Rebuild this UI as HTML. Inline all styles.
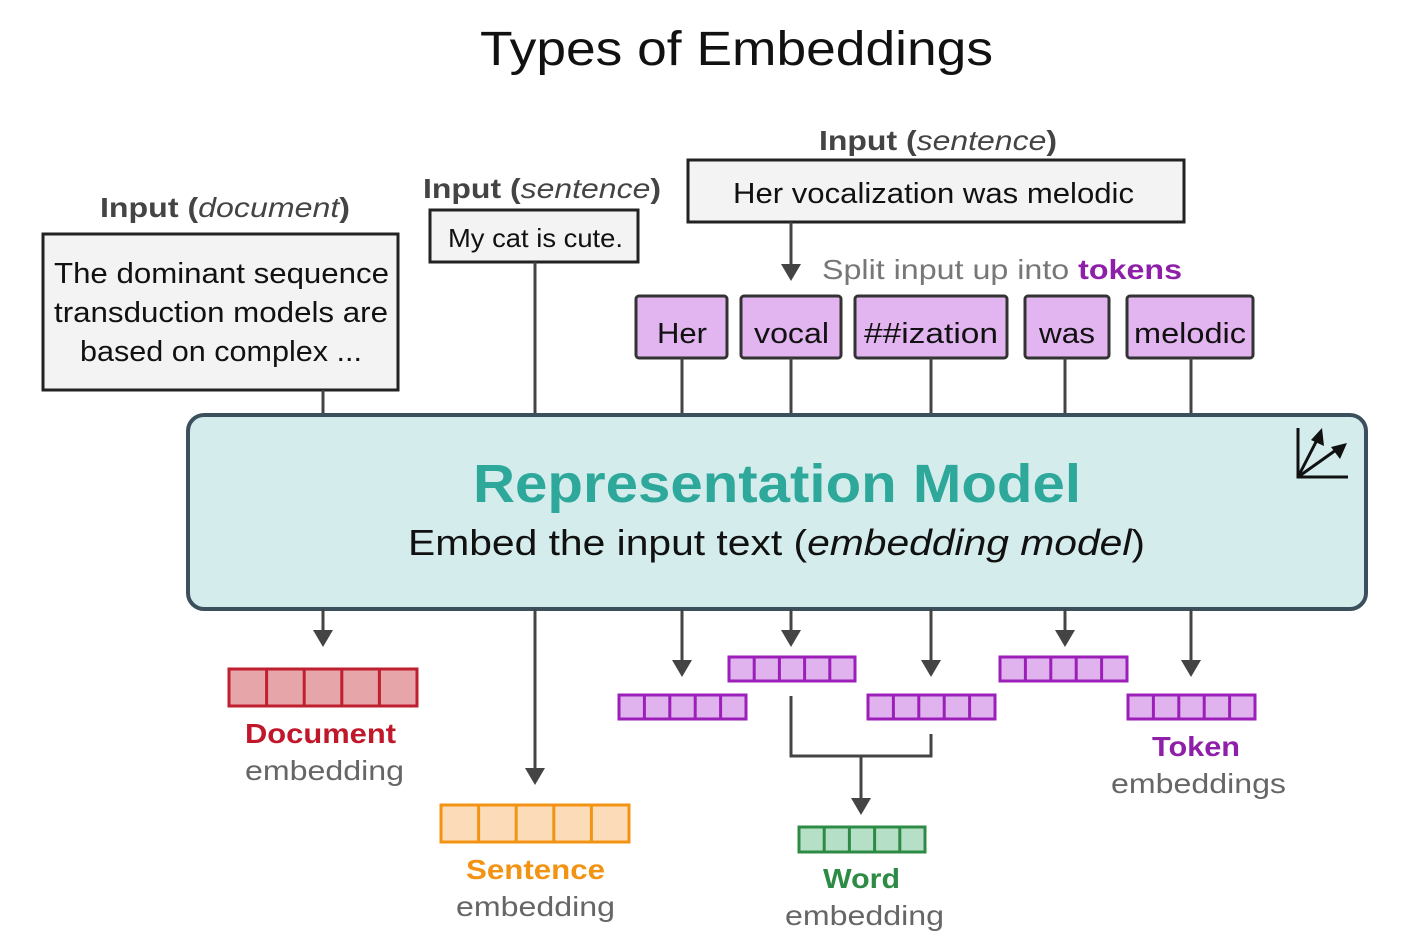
<!DOCTYPE html>
<html><head><meta charset="utf-8"><style>
html,body{margin:0;padding:0;background:#fff;}
svg{display:block;font-family:"Liberation Sans",sans-serif;}
</style></head><body>
<svg width="1403" height="947" viewBox="0 0 1403 947" xmlns="http://www.w3.org/2000/svg">
<text x="480" y="65" font-size="48" fill="#111" textLength="513" lengthAdjust="spacingAndGlyphs">Types of Embeddings</text>

<!-- document input -->
<text x="100" y="217" font-size="28" fill="#444" textLength="250" lengthAdjust="spacingAndGlyphs"><tspan font-weight="bold">Input (</tspan><tspan font-style="italic">document</tspan><tspan font-weight="bold">)</tspan></text>
<rect x="43" y="234" width="355" height="156" fill="#f3f3f3" stroke="#222" stroke-width="3"/>
<g font-size="29" fill="#111">
<text x="54" y="283" textLength="335" lengthAdjust="spacingAndGlyphs">The dominant sequence</text>
<text x="54" y="322" textLength="334" lengthAdjust="spacingAndGlyphs">transduction models are</text>
<text x="80" y="361" textLength="282" lengthAdjust="spacingAndGlyphs">based on complex ...</text>
</g>

<!-- sentence input -->
<text x="423" y="198" font-size="28" fill="#444" textLength="238" lengthAdjust="spacingAndGlyphs"><tspan font-weight="bold">Input (</tspan><tspan font-style="italic">sentence</tspan><tspan font-weight="bold">)</tspan></text>
<rect x="430" y="210" width="208" height="52" fill="#f3f3f3" stroke="#222" stroke-width="3"/>
<text x="448" y="247" font-size="26" fill="#111" textLength="175" lengthAdjust="spacingAndGlyphs">My cat is cute.</text>

<!-- token input -->
<text x="819" y="150" font-size="28" fill="#444" textLength="238" lengthAdjust="spacingAndGlyphs"><tspan font-weight="bold">Input (</tspan><tspan font-style="italic">sentence</tspan><tspan font-weight="bold">)</tspan></text>
<rect x="688" y="160" width="496" height="62" fill="#f3f3f3" stroke="#222" stroke-width="3"/>
<text x="733" y="203" font-size="29" fill="#111" textLength="401" lengthAdjust="spacingAndGlyphs">Her vocalization was melodic</text>
<line x1="791" y1="222" x2="791" y2="266" stroke="#444" stroke-width="3"/>
<polygon points="781,264 801,264 791,281" fill="#444"/>
<text x="822" y="279" font-size="28" fill="#777" textLength="360" lengthAdjust="spacingAndGlyphs">Split input up into <tspan font-weight="bold" fill="#8e1fa8">tokens</tspan></text>

<!-- token boxes -->
<g fill="#e2b4f0" stroke="#333" stroke-width="3">
<rect x="636" y="296" width="91" height="62" rx="3"/>
<rect x="741" y="296" width="100" height="62" rx="3"/>
<rect x="855" y="296" width="152" height="62" rx="3"/>
<rect x="1025" y="296" width="84" height="62" rx="3"/>
<rect x="1127" y="296" width="126" height="62" rx="3"/>
</g>
<g font-size="29" fill="#111">
<text x="657" y="343" textLength="50" lengthAdjust="spacingAndGlyphs">Her</text>
<text x="754" y="343" textLength="75" lengthAdjust="spacingAndGlyphs">vocal</text>
<text x="864" y="343" textLength="134" lengthAdjust="spacingAndGlyphs">##ization</text>
<text x="1039" y="343" textLength="56" lengthAdjust="spacingAndGlyphs">was</text>
<text x="1134" y="343" textLength="112" lengthAdjust="spacingAndGlyphs">melodic</text>
</g>

<!-- connectors above model -->
<g stroke="#444" stroke-width="3">
<line x1="323" y1="390" x2="323" y2="416"/>
<line x1="535" y1="262" x2="535" y2="416"/>
<line x1="682" y1="358" x2="682" y2="416"/>
<line x1="791" y1="358" x2="791" y2="416"/>
<line x1="931" y1="358" x2="931" y2="416"/>
<line x1="1065" y1="358" x2="1065" y2="416"/>
<line x1="1191" y1="358" x2="1191" y2="416"/>
</g>

<!-- model -->
<rect x="188" y="415" width="1178" height="194" rx="16" fill="#d5ecec" stroke="#3c4f5c" stroke-width="4"/>
<text x="473" y="502" font-size="54" font-weight="bold" fill="#2ea89a" textLength="608" lengthAdjust="spacingAndGlyphs">Representation Model</text>
<text x="408" y="555" font-size="36" fill="#111" textLength="737" lengthAdjust="spacingAndGlyphs">Embed the input text (<tspan font-style="italic">embedding model</tspan>)</text>
<g stroke="#111" stroke-width="3" fill="none">
<path d="M1298,428 L1298,477 L1348,477"/>
<line x1="1298" y1="477" x2="1318" y2="438"/>
<line x1="1298" y1="477" x2="1336" y2="450"/>
</g>
<polygon points="1322,428 1324,446 1311,440" fill="#111"/>
<polygon points="1347,443 1340,459 1331,447" fill="#111"/>

<!-- output arrows -->
<g stroke="#444" stroke-width="3">
<line x1="323" y1="609" x2="323" y2="632"/>
<line x1="535" y1="609" x2="535" y2="770"/>
<line x1="682" y1="609" x2="682" y2="662"/>
<line x1="791" y1="609" x2="791" y2="632"/>
<line x1="931" y1="609" x2="931" y2="662"/>
<line x1="1065" y1="609" x2="1065" y2="632"/>
<line x1="1191" y1="609" x2="1191" y2="662"/>
<path d="M791,696 L791,756 L931,756 L931,734" fill="none"/>
<line x1="861" y1="756" x2="861" y2="800"/>
</g>
<g fill="#444">
<polygon points="313,630 333,630 323,647"/>
<polygon points="525,768 545,768 535,785"/>
<polygon points="672,660 692,660 682,677"/>
<polygon points="781,630 801,630 791,647"/>
<polygon points="921,660 941,660 931,677"/>
<polygon points="1055,630 1075,630 1065,647"/>
<polygon points="1181,660 1201,660 1191,677"/>
<polygon points="851,798 871,798 861,815"/>
</g>

<!-- vectors -->
<g fill="#e6a5a9" stroke="#c01f2f" stroke-width="3">
<rect x="229" y="669" width="188" height="37"/>
<path d="M266.6,669V706M304.2,669V706M341.8,669V706M379.4,669V706"/>
</g>
<g fill="#fcdcb8" stroke="#f39314" stroke-width="3">
<rect x="441" y="805" width="188" height="37"/>
<path d="M478.6,805V842M516.2,805V842M553.8,805V842M591.4,805V842"/>
</g>
<g fill="#e0b3ee" stroke="#9b1fb8" stroke-width="3">
<rect x="619" y="695" width="127" height="24"/>
<path d="M644.4,695V719M669.8,695V719M695.2,695V719M720.6,695V719"/>
<rect x="729" y="657" width="126" height="24"/>
<path d="M754.2,657V681M779.4,657V681M804.6,657V681M829.8,657V681"/>
<rect x="868" y="695" width="127" height="24"/>
<path d="M893.4,695V719M918.8,695V719M944.2,695V719M969.6,695V719"/>
<rect x="1000" y="657" width="127" height="24"/>
<path d="M1025.4,657V681M1050.8,657V681M1076.2,657V681M1101.6,657V681"/>
<rect x="1128" y="695" width="127" height="24"/>
<path d="M1153.4,695V719M1178.8,695V719M1204.2,695V719M1229.6,695V719"/>
</g>
<g fill="#b5dfc6" stroke="#2e8b45" stroke-width="3">
<rect x="799" y="827" width="126" height="25"/>
<path d="M824.2,827V852M849.4,827V852M874.6,827V852M899.8,827V852"/>
</g>

<!-- labels -->
<g font-size="28">
<text x="245" y="743" font-weight="bold" fill="#c0172a" textLength="151" lengthAdjust="spacingAndGlyphs">Document</text>
<text x="245" y="780" fill="#666" textLength="159" lengthAdjust="spacingAndGlyphs">embedding</text>
<text x="466" y="879" font-weight="bold" fill="#f39314" textLength="139" lengthAdjust="spacingAndGlyphs">Sentence</text>
<text x="456" y="916" fill="#666" textLength="159" lengthAdjust="spacingAndGlyphs">embedding</text>
<text x="823" y="888" font-weight="bold" fill="#2e8b45" textLength="77" lengthAdjust="spacingAndGlyphs">Word</text>
<text x="785" y="925" fill="#666" textLength="159" lengthAdjust="spacingAndGlyphs">embedding</text>
<text x="1152" y="756" font-weight="bold" fill="#8e1fa8" textLength="88" lengthAdjust="spacingAndGlyphs">Token</text>
<text x="1111" y="793" fill="#666" textLength="175" lengthAdjust="spacingAndGlyphs">embeddings</text>
</g>
</svg>
</body></html>
